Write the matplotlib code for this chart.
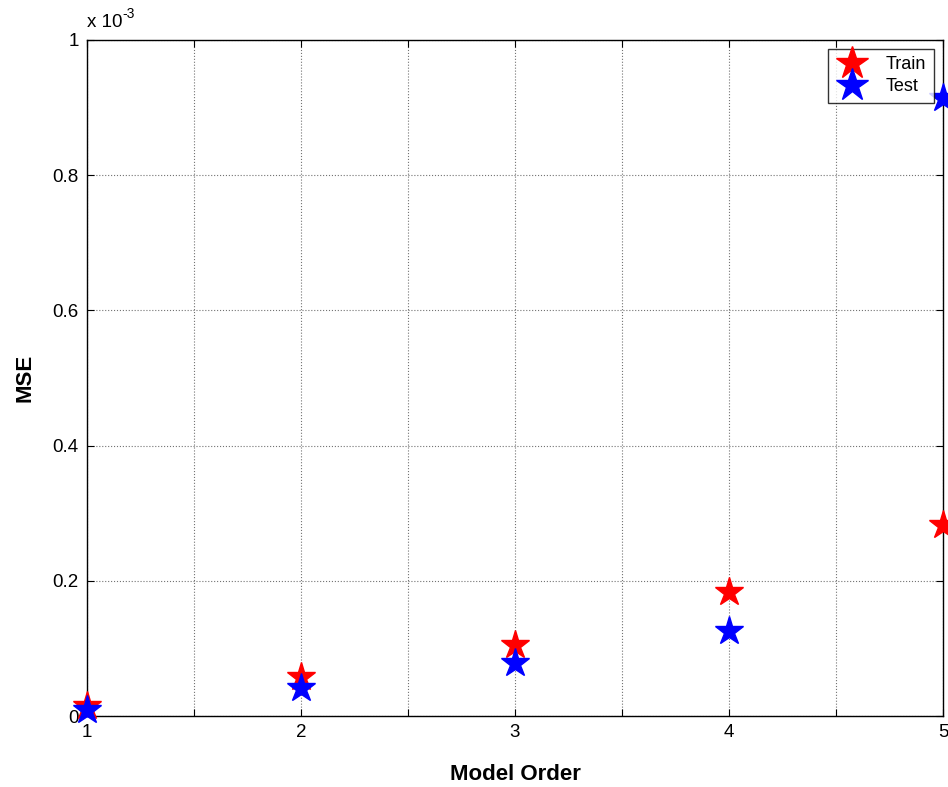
import matplotlib.pyplot as plt
from matplotlib.ticker import FuncFormatter, MultipleLocator

plt.rcParams['font.family'] = ['Liberation Sans', 'DejaVu Sans']

# Model orders and mean squared errors
model_order = [1, 2, 3, 4, 5]
train_mse = [0.015e-3, 0.058e-3, 0.105e-3, 0.183e-3, 0.283e-3]
test_mse = [0.009e-3, 0.041e-3, 0.078e-3, 0.126e-3, 0.914e-3]

y_ticks = [0, 0.2e-3, 0.4e-3, 0.6e-3, 0.8e-3, 1.0e-3]

fig = plt.figure(figsize=(9.48, 7.87), dpi=100)
ax = fig.add_axes([0.0918, 0.0902, 0.9029, 0.859])

ax.plot(model_order, train_mse, linestyle='none', marker='*', markersize=21,
        color='red', label='Train', clip_on=False, zorder=3)
ax.plot(model_order, test_mse, linestyle='none', marker='*', markersize=21,
        color='blue', label='Test', clip_on=False, zorder=4)

ax.set_xlim(1, 5)
ax.set_ylim(0, 1e-3)
ax.set_xticks(model_order)
ax.xaxis.set_minor_locator(MultipleLocator(0.5))
ax.set_yticks(y_ticks)
ax.yaxis.set_major_formatter(FuncFormatter(lambda v, p: f"{v * 1e3:g}"))

ax.grid(True, which='both', axis='x', linestyle=':', color='0.45', linewidth=0.8)
ax.grid(True, which='major', axis='y', linestyle=':', color='0.45', linewidth=0.8)
ax.tick_params(which='both', direction='in', top=True, right=True,
               labelsize=13.5, length=5, width=0.8, pad=6)
ax.tick_params(which='minor', length=5)
for s in ax.spines.values():
    s.set_linewidth(1.0)

# MATLAB style exponent label above the y axis
base = ax.text(0.0, 1.014, 'x 10', transform=ax.transAxes, fontsize=13.5,
               ha='left', va='bottom')
ax.annotate('-3', xy=(1.0, 0.55), xycoords=base, fontsize=10,
            ha='left', va='bottom')

ax.set_xlabel('Model Order', fontsize=16, fontweight='bold', labelpad=16)
ax.set_ylabel('MSE', fontsize=16, fontweight='bold', labelpad=12)

leg = ax.legend(loc='upper right', bbox_to_anchor=(0.989, 0.987), fontsize=13,
                frameon=True, fancybox=False, edgecolor='black',
                handletextpad=1.0, labelspacing=0.3, borderpad=0.4,
                handlelength=1.8, borderaxespad=0.0, markerscale=1.15)
leg.get_frame().set_linewidth(1.0)

fig.savefig('out.png', dpi=100, facecolor='white')
